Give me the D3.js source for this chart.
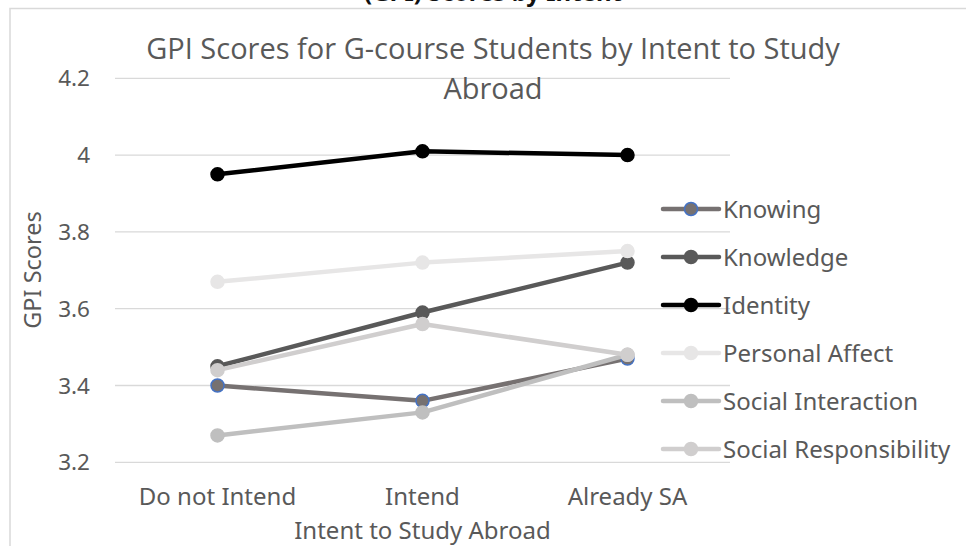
<!DOCTYPE html>
<html>
<head>
<meta charset="utf-8">
<script src="https://cdn.jsdelivr.net/npm/d3@7"></script>
<style>
  body { margin: 0; background: #fff; }
  svg { display: block; }
</style>
</head>
<body>
<div id="chart"></div>
<script>
var categories = ["Do not Intend", "Intend", "Already SA"];
var seriesNames = ["Knowing", "Knowledge", "Identity", "Personal Affect", "Social Interaction", "Social Responsibility"];
var knowing = [3.40, 3.36, 3.47];
var knowledge = [3.45, 3.59, 3.72];
var identity = [3.95, 4.01, 4.00];
var personalAffect = [3.67, 3.72, 3.75];
var socialInteraction = [3.27, 3.33, 3.48];
var socialResponsibility = [3.44, 3.56, 3.48];
var yTicks = [3.2, 3.4, 3.6, 3.8, 4, 4.2];

var seriesValues = [knowing, knowledge, identity, personalAffect, socialInteraction, socialResponsibility];
var lineColors = ["#767171", "#595959", "#000000", "#E7E6E6", "#BFBFBF", "#D0CECE"];
var markerStroke = ["#4472C4", "#595959", "#000000", "#E7E6E6", "#BFBFBF", "#D0CECE"];

var W = 966, H = 546;
var plot = {left: 115, right: 730, top: 78.3, bottom: 462.3};
var textCol = "#595959";
var font = "'Noto Sans', sans-serif";

var svg = d3.select("#chart")
  .append("svg")
    .attr("width", W)
    .attr("height", H);

// frame of the chart object, runs past the right and bottom edge
svg.append("rect")
    .attr("x", 10)
    .attr("y", 8.5)
    .attr("width", W)
    .attr("height", H)
    .attr("fill", "none")
    .attr("stroke", "#D9D9D9")
    .attr("stroke-width", 1.5);

// heading text of the page above, mostly cut off
svg.append("text")
    .attr("x", 493)
    .attr("y", 1.2)
    .attr("text-anchor", "middle")
    .attr("font-family", font)
    .attr("font-weight", "bold")
    .attr("font-size", 24)
    .attr("fill", "#111")
    .text("(GPI) Scores by Intent");

var x = d3.scalePoint()
    .domain(categories)
    .range([plot.left, plot.right])
    .padding(0.5);

var y = d3.scaleLinear()
    .domain([3.2, 4.2])
    .range([plot.bottom, plot.top]);

// gridlines
svg.append("g")
  .selectAll("line")
  .data(yTicks)
  .join("line")
    .attr("x1", plot.left)
    .attr("x2", plot.right)
    .attr("y1", function(d) { return y(d); })
    .attr("y2", function(d) { return y(d); })
    .attr("stroke", "#D9D9D9")
    .attr("stroke-width", 1.3);

// y tick labels
svg.append("g")
  .selectAll("text")
  .data(yTicks)
  .join("text")
    .attr("x", 90)
    .attr("y", function(d) { return y(d) + 8; })
    .attr("text-anchor", "end")
    .attr("font-family", font)
    .attr("font-size", 22.5)
    .attr("fill", textCol)
    .text(function(d) { return d3.format("")(d); });

// x labels
svg.append("g")
  .selectAll("text")
  .data(categories)
  .join("text")
    .attr("x", function(d) { return x(d); })
    .attr("y", 505)
    .attr("text-anchor", "middle")
    .attr("font-family", font)
    .attr("font-size", 24)
    .attr("fill", textCol)
    .text(function(d) { return d; });

// axis titles
svg.append("text")
    .attr("x", 422.5)
    .attr("y", 538.5)
    .attr("text-anchor", "middle")
    .attr("font-family", font)
    .attr("font-size", 24)
    .attr("fill", textCol)
    .text("Intent to Study Abroad");

svg.append("text")
    .attr("transform", "translate(41,270) rotate(-90)")
    .attr("text-anchor", "middle")
    .attr("font-family", font)
    .attr("font-size", 23.5)
    .attr("fill", textCol)
    .text("GPI Scores");

// chart title
var title = svg.append("text")
    .attr("text-anchor", "middle")
    .attr("font-family", "'Open Sans', sans-serif")
    .attr("font-size", 29)
    .attr("fill", textCol);
title.append("tspan").attr("x", 493).attr("y", 59).text("GPI Scores for G-course Students by Intent to Study");
title.append("tspan").attr("x", 493).attr("y", 99).text("Abroad");

// series lines and markers
var line = d3.line()
    .x(function(d, i) { return x(categories[i]); })
    .y(function(d) { return y(d); });

seriesValues.forEach(function(vals, s) {
  var g = svg.append("g");
  g.append("path")
      .attr("d", line(vals))
      .attr("fill", "none")
      .attr("stroke", lineColors[s])
      .attr("stroke-width", 4.5)
      .attr("stroke-linejoin", "round");
  g.selectAll("circle")
    .data(vals)
    .join("circle")
      .attr("cx", function(d, i) { return x(categories[i]); })
      .attr("cy", function(d) { return y(d); })
      .attr("r", 6.5)
      .attr("fill", lineColors[s])
      .attr("stroke", markerStroke[s])
      .attr("stroke-width", 1.5);
});

// legend
var legend = svg.append("g")
  .selectAll("g")
  .data(seriesNames)
  .join("g")
    .attr("transform", function(d, i) { return "translate(0," + (209 + i * 48) + ")"; });

legend.append("line")
    .attr("x1", 663)
    .attr("x2", 719)
    .attr("stroke", function(d, i) { return lineColors[i]; })
    .attr("stroke-width", 4.5)
    .attr("stroke-linecap", "round");

legend.append("circle")
    .attr("cx", 691)
    .attr("r", 6.5)
    .attr("fill", function(d, i) { return lineColors[i]; })
    .attr("stroke", function(d, i) { return markerStroke[i]; })
    .attr("stroke-width", 1.5);

legend.append("text")
    .attr("x", 723)
    .attr("y", 8.5)
    .attr("font-family", font)
    .attr("font-size", 24)
    .attr("fill", textCol)
    .text(function(d) { return d; });
</script>
</body>
</html>
